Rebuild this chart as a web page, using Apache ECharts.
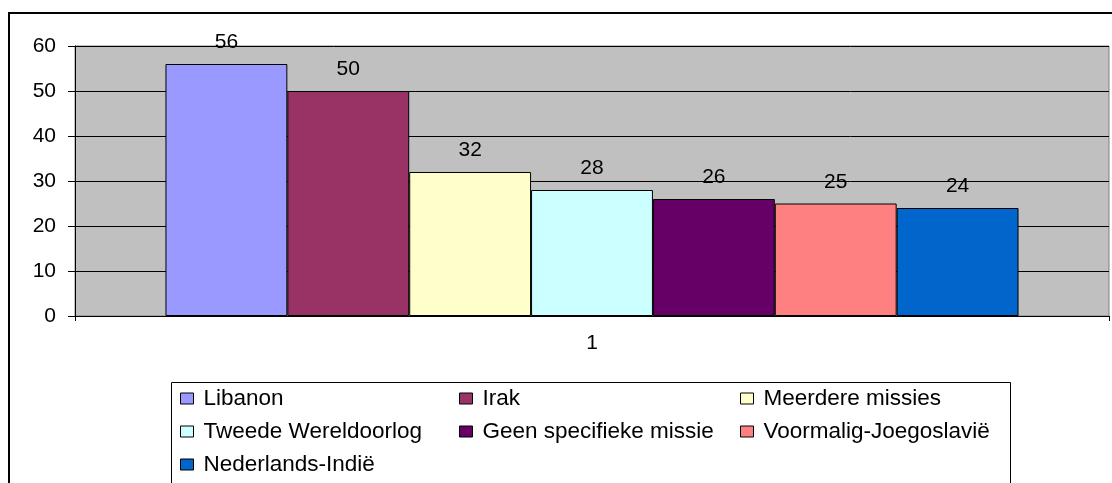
<!DOCTYPE html>
<html>
<head>
<meta charset="utf-8">
<script src="https://cdn.jsdelivr.net/npm/echarts@6/dist/echarts.min.js"></script>
<style>
  html, body { margin: 0; padding: 0; background: #fff; }
  #main { width: 1112px; height: 483px; }
</style>
</head>
<body>
<div id="main"></div>
<script>
// data
var categories = ['1'];
var missies = ['Libanon', 'Irak', 'Meerdere missies', 'Tweede Wereldoorlog',
               'Geen specifieke missie', 'Voormalig-Joegoslavië', 'Nederlands-Indië'];
var waarden = [56, 50, 32, 28, 26, 25, 24];
var yTicks = [0, 10, 20, 30, 40, 50, 60];

var kleuren = ['#9999FF', '#993366', '#FFFFCC', '#CCFFFF', '#660066', '#FF8080', '#0066CC'];

var myChart = echarts.init(document.getElementById('main'));

var series = missies.map(function (naam, i) {
    return {
        name: naam,
        type: 'bar',
        barGap: '0%',
        barCategoryGap: '17.5%',
        itemStyle: { color: kleuren[i], borderColor: '#000', borderWidth: 1 },
        label: {
            show: true, position: 'top', distance: 11,
            color: '#000', fontSize: 21, fontFamily: 'Liberation Sans'
        },
        data: [waarden[i]]
    };
});

// legenda in drie kolommen
function legendKolom(items, left) {
    return {
        orient: 'vertical', left: left, top: 387,
        itemWidth: 13, itemHeight: 11, itemGap: 10, padding: 0,
        icon: 'rect',
        itemStyle: { borderColor: '#000', borderWidth: 1 },
        textStyle: { color: '#000', fontSize: 22.5, fontFamily: 'Liberation Sans', padding: [0, 0, 0, 5] },
        selectedMode: false,
        data: items
    };
}

var option = {
    animation: false,
    textStyle: { fontFamily: 'Liberation Sans' },
    grid: {
        left: 75, right: 3, top: 46, bottom: 167,
        show: true, backgroundColor: '#c0c0c0', borderColor: '#808080', borderWidth: 1
    },
    legend: [
        legendKolom([missies[0], missies[3], missies[6]], 180),
        legendKolom([missies[1], missies[4]], 459),
        legendKolom([missies[2], missies[5]], 740)
    ],
    xAxis: {
        type: 'category',
        data: categories,
        axisLine: { lineStyle: { color: '#000', width: 1 } },
        axisTick: { show: true, length: 5, lineStyle: { color: '#000' } },
        axisLabel: { color: '#000', fontSize: 21, margin: 17 }
    },
    yAxis: {
        type: 'value',
        min: yTicks[0], max: yTicks[yTicks.length - 1], interval: 10,
        axisLine: { show: true, lineStyle: { color: '#000', width: 1 } },
        axisTick: { show: true, inside: false, length: 7, lineStyle: { color: '#000' } },
        axisLabel: { color: '#000', fontSize: 21, margin: 19 },
        splitLine: { show: true, lineStyle: { color: '#000', width: 1 } }
    },
    graphic: [
        {
            type: 'rect', silent: true, z: -1,
            shape: { x: 9, y: 13, width: 1120, height: 500 },
            style: { fill: null, stroke: '#000', lineWidth: 2 }
        },
        {
            type: 'rect', silent: true,
            shape: { x: 171.5, y: 382.5, width: 839, height: 140 },
            style: { fill: null, stroke: '#000', lineWidth: 1 }
        }
    ],
    series: series
};

myChart.setOption(option);
</script>
</body>
</html>
